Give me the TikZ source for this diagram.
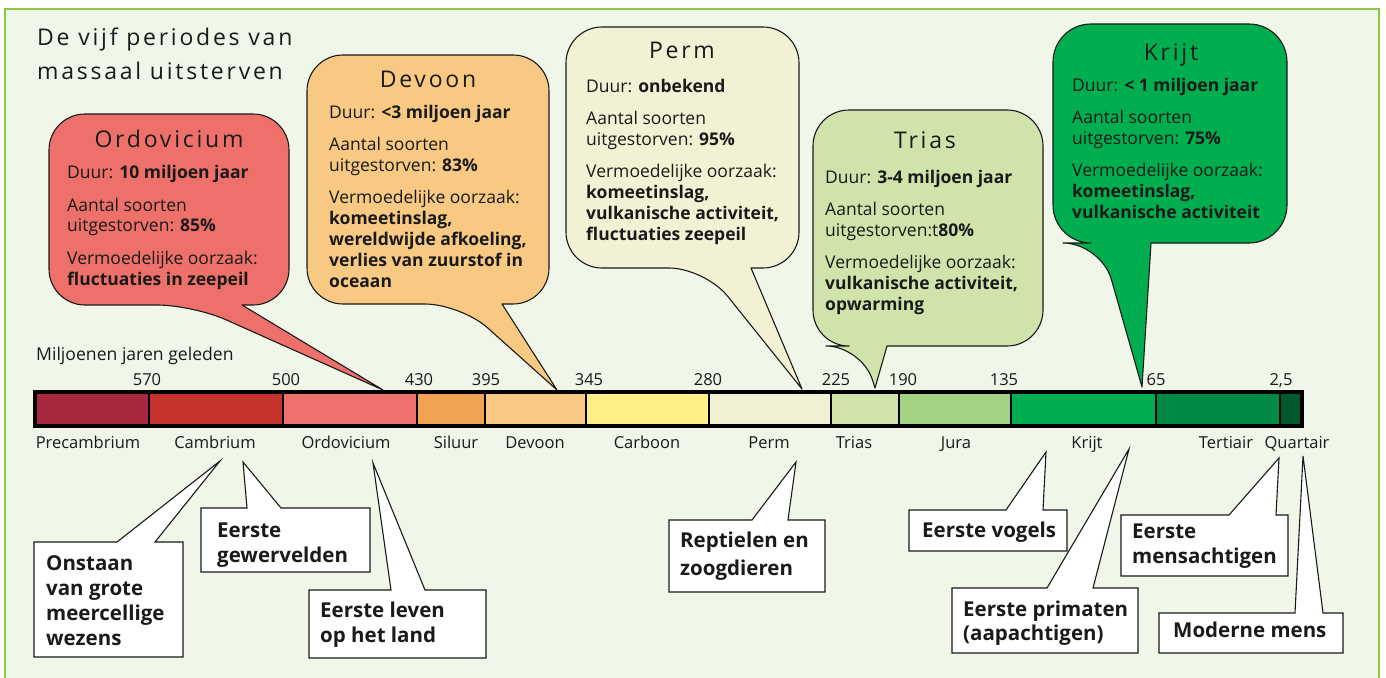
\documentclass[tikz,border=0pt]{standalone}
\usepackage{fontspec}
\setmainfont{Open Sans}
\newfontfamily\spacedfont[LetterSpace=12]{Open Sans}
\usepackage{tikz}

\definecolor{framegreen}{RGB}{141,198,63}
\definecolor{paper}{RGB}{240,246,232}
\definecolor{precol}{RGB}{166,41,64}
\definecolor{camcol}{RGB}{200,50,44}
\definecolor{ordcol}{RGB}{238,112,107}
\definecolor{silcol}{RGB}{240,164,83}
\definecolor{devcol}{RGB}{247,201,130}
\definecolor{carcol}{RGB}{253,238,133}
\definecolor{percol}{RGB}{243,241,211}
\definecolor{tricol}{RGB}{207,227,171}
\definecolor{jurcol}{RGB}{163,210,130}
\definecolor{kricol}{RGB}{0,173,79}
\definecolor{tercol}{RGB}{0,138,70}
\definecolor{quacol}{RGB}{0,90,45}
\definecolor{ink}{RGB}{26,26,26}

\begin{document}
\begin{tikzpicture}[x=1pt,y=-1pt]
\tikzstyle{bubble} = [draw=ink, line width=1.1pt, line join=round]
\tikzstyle{callout} = [draw=ink, fill=white, line width=1.1pt]
\tikzstyle{bubbletitle} = [anchor=base, inner sep=0pt, text=ink, font=\spacedfont\fontsize{23}{26}\selectfont]
\tikzstyle{info} = [anchor=base west, inner sep=0pt, align=left, text=ink, font=\fontsize{17.5}{20.8}\selectfont]
\tikzstyle{age} = [anchor=base, inner sep=0pt, text=ink, font=\fontsize{16.5}{18}\selectfont]
\tikzstyle{event} = [anchor=base west, inner sep=0pt, align=left, text=ink, font=\bfseries\fontsize{20.5}{25}\selectfont]
% multi-line nodes: anchor base = baseline of the last line

\useasboundingbox (0,0) rectangle (1386,677);
\fill[white] (0,0) rectangle (1386,677);
\draw[framegreen, fill=paper, line width=2.5pt] (5,9) rectangle (1379,700);

\node[anchor=base west, inner sep=0pt, align=left, text=ink, font=\spacedfont\fontsize{23}{35}\selectfont] (title) at (37,80) {De vijf periodes van\\massaal uitsterven};

% tijdbalk
\foreach \a/\b/\c in {35/149/precol,149/283/camcol,283/417/ordcol,417/485/silcol,485/586/devcol,586/709/carcol,709/831/percol,831/899/tricol,899/1011/jurcol,1011/1156/kricol,1156/1280/tercol,1280/1302/quacol}
  \fill[\c] (\a,392) rectangle (\b,426);
\foreach \x in {149,283,417,485,586,709,831,899,1011,1156,1280}
  \draw[black, line width=1.6pt] (\x,392) -- (\x,426);
\draw[black, line width=3.5pt] (35,392) rectangle (1302,426);

\node[anchor=base west, inner sep=0pt, text=ink, font=\fontsize{17.6}{18}\selectfont] (unit) at (36,360) {Miljoenen jaren geleden};
\node[age] (a570) at (147,385) {570};
\node[age] (a500) at (286,385) {500};
\node[age] (a430) at (419,385) {430};
\node[age] (a395) at (486,385) {395};
\node[age] (a345) at (589,385) {345};
\node[age] (a280) at (708,385) {280};
\node[age] (a225) at (836,385) {225};
\node[age] (a190) at (903,385) {190};
\node[age] (a135) at (1004,385) {135};
\node[age] (a65) at (1156,385) {65};
\node[age] (a2) at (1281,385) {2,5};

\node[age] (precambrium) at (88,448) {Precambrium};
\node[age] (cambrium) at (215,448) {Cambrium};
\node[age] (ordovicium) at (346,448) {Ordovicium};
\node[age] (siluur) at (456,448) {Siluur};
\node[age] (devoon) at (535,448) {Devoon};
\node[age] (carboon) at (647,448) {Carboon};
\node[age] (perm) at (769,448) {Perm};
\node[age] (trias) at (854,448) {Trias};
\node[age] (jura) at (956,448) {Jura};
\node[age] (krijt) at (1087,448) {Krijt};
\node[age] (tertiair) at (1226,448) {Tertiair};
\node[age] (quartair) at (1297,448) {Quartair};

% de vijf uitstervingen
\draw[bubble, fill=ordcol] (242,305) [rounded corners=36] -- (289,305) -- (289,114) -- (49,114) -- (49,305) -- (193,305) [sharp corners] -- (383,390) -- cycle;
\node[bubbletitle] (ordo) at (169,147) {Ordovicium};
\node[info] (ordo-info) at (67,285) {Duur: \textbf{10 miljoen jaar}\\[11.5pt]Aantal soorten\\uitgestorven: \textbf{85\%}\\[11.5pt]Vermoedelijke oorzaak:\\\textbf{fluctuaties in zeepeil}};

\draw[bubble, fill=devcol] (502,304) [rounded corners=36] -- (549,304) -- (549,55) -- (307,55) -- (307,304) -- (461,304) [sharp corners] -- (557,390) -- cycle;
\node[bubbletitle] (devo) at (428,88) {Devoon};
\node[info] (devo-info) at (329,287) {Duur: \textbf{<3 miljoen jaar}\\[11.5pt]Aantal soorten\\uitgestorven: \textbf{83\%}\\[11.5pt]Vermoedelijke oorzaak:\\\textbf{komeetinslag,}\\\textbf{wereldwijde afkoeling,}\\\textbf{verlies van zuurstof in}\\\textbf{oceaan}};

\draw[bubble, fill=percol] (751,268) [rounded corners=36] -- (799,268) -- (799,27) -- (566,27) -- (566,268) -- (705,268) [sharp corners] -- (802,389) -- cycle;
\node[bubbletitle] (perm-b) at (682,59) {Perm};
\node[info] (perm-info) at (586,240) {Duur: \textbf{onbekend}\\[11.5pt]Aantal soorten\\uitgestorven: \textbf{95\%}\\[11.5pt]Vermoedelijke oorzaak:\\\textbf{komeetinslag,}\\\textbf{vulkanische activiteit,}\\\textbf{fluctuaties zeepeil}};

\draw[bubble, fill=tricol] (887,346) [rounded corners=36] -- (1043,346) -- (1043,110) -- (813,110) -- (813,346) -- (862,346) [sharp corners] -- (875,388) -- cycle;
\node[bubbletitle] (tria) at (925,148) {Trias};
\node[info] (tria-info) at (825,310) {Duur: \textbf{3-4 miljoen jaar}\\[11.5pt]Aantal soorten\\uitgestorven:t\textbf{80\%}\\[11.5pt]Vermoedelijke oorzaak:\\\textbf{vulkanische activiteit,}\\\textbf{opwarming}};

\draw[bubble, fill=kricol] (1151,243) [rounded corners=38] -- (1287,243) -- (1287,24) -- (1053,24) -- (1053,243) -- (1101,243) [sharp corners] -- (1142,387) -- cycle;
\node[bubbletitle] (krij) at (1171,60) {Krijt};
\node[info] (krij-info) at (1072,218) {Duur: \textbf{< 1 miljoen jaar}\\[11.5pt]Aantal soorten\\uitgestorven: \textbf{75\%}\\[11.5pt]Vermoedelijke oorzaak:\\\textbf{komeetinslag,}\\\textbf{vulkanische activiteit}};

% gebeurtenissen onder de balk
\coordinate (tip-onstaan) at (220,461);
\coordinate (tip-gewervelden) at (243,462);
\coordinate (tip-leven) at (373,463);
\coordinate (tip-reptielen) at (796,462);
\coordinate (tip-vogels) at (1046,452);
\coordinate (tip-primaten) at (1129,449);
\coordinate (tip-mensachtigen) at (1279,458);
\coordinate (tip-moderne) at (1303,456);

\draw[callout] (117,542) -- (tip-onstaan) -- (155,542) -- (183,542) -- (183,657) -- (34,657) -- (34,542) -- cycle;
\node[event] (onstaan) at (46,645) {Onstaan\\van grote\\meercellige\\wezens};

\draw[callout] (247,508) -- (tip-gewervelden) -- (281,508) -- (370,508) -- (370,572) -- (201,572) -- (201,508) -- cycle;
\node[event] (gewervelden) at (217,562) {Eerste\\gewervelden};

\draw[callout] (391,590) -- (tip-leven) -- (425,590) -- (486,590) -- (486,658) -- (309,658) -- (309,590) -- cycle;
\node[event] (leven) at (320,642) {Eerste leven\\op het land};

\draw[callout] (752,520) -- (tip-reptielen) -- (788,520) -- (825,520) -- (825,592) -- (669,592) -- (669,520) -- cycle;
\node[event, font=\bfseries\fontsize{20.5}{27.5}\selectfont] (reptielen) at (680,575) {Reptielen en\\zoogdieren};

\draw[callout] (1006,510) -- (tip-vogels) -- (1043,510) -- (1067,510) -- (1067,551) -- (909,551) -- (909,510) -- cycle;
\node[event] (vogels) at (922,537) {Eerste vogels};

\draw[callout] (1047,588) -- (tip-primaten) -- (1093,588) -- (1138,588) -- (1138,653) -- (952,653) -- (952,588) -- cycle;
\node[event, font=\bfseries\fontsize{20.5}{24}\selectfont] (primaten) at (963,640) {Eerste primaten\\(aapachtigen)};

\draw[callout] (1229,515) -- (tip-mensachtigen) -- (1276,515) -- (1288,515) -- (1288,576) -- (1121,576) -- (1121,515) -- cycle;
\node[event] (mensachtigen) at (1132,563) {Eerste\\mensachtigen};

\draw[callout] (1295,613) -- (tip-moderne) -- (1323,613) -- (1343,613) -- (1343,653) -- (1159,653) -- (1159,613) -- cycle;
\node[event] (moderne) at (1173,637) {Moderne mens};
\end{tikzpicture}
\end{document}
